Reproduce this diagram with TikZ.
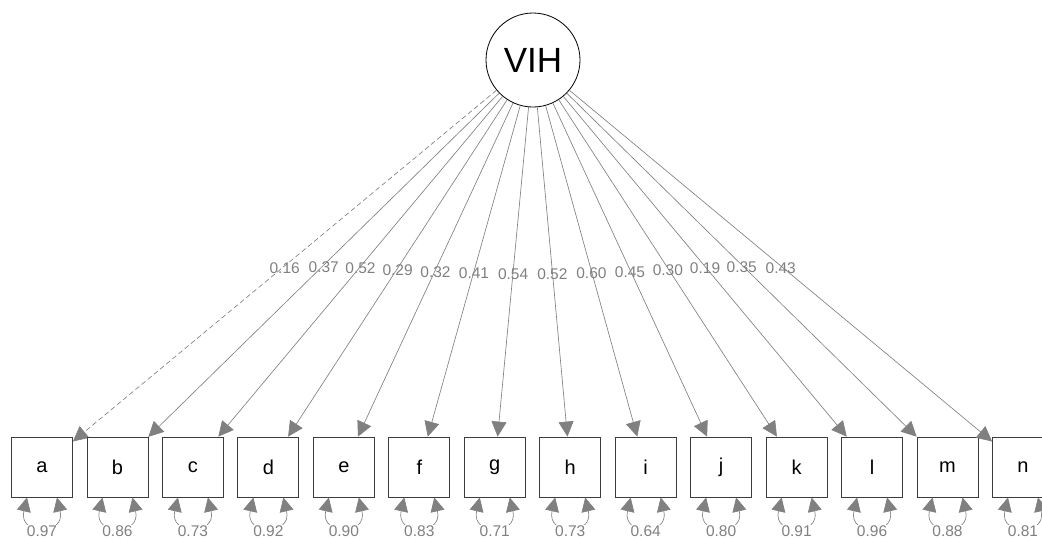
\documentclass[tikz,border=0pt]{standalone}
\usepackage{fontspec}
\setmainfont{Liberation Sans}
\usetikzlibrary{arrows.meta}
\definecolor{edgegray}{HTML}{808080}
\definecolor{boxgray}{HTML}{3C3C3C}
\begin{document}
\begin{tikzpicture}[x=1pt,y=-1pt,
  latent/.style={circle,draw=black,line width=0.8pt,minimum size=94pt,inner sep=0pt,
    font=\fontsize{35}{40}\selectfont},
  manifest/.style={rectangle,draw=boxgray,line width=0.8pt,minimum width=61pt,
    minimum height=60pt,inner sep=0pt,font=\fontsize{20}{24}\selectfont},
  loading/.style={draw=edgegray,line width=0.65pt,
    -{Triangle[length=15pt,width=15pt,fill=edgegray]}},
  fixed/.style={dash pattern=on 5pt off 3pt},
  coef/.style={text=edgegray,font=\fontsize{15.5}{17}\selectfont,inner sep=0pt},
  resid/.style={draw=edgegray,line width=0.65pt,
    {Triangle[length=14pt,width=14pt,fill=edgegray]}-{Triangle[length=14pt,width=14pt,fill=edgegray]}},
  rlabel/.style={coef,fill=white,inner sep=1pt}]
\useasboundingbox (0,0) rectangle (1042,539);

% latent factor
\node[latent] (v) at (533,60) {VIH};

% indicators with loadings and residual variances
\foreach \n/\l/\r/\ls [count=\i from 0] in {
  a/0.16/0.97/fixed, b/0.37/0.86/solid, c/0.52/0.73/solid, d/0.29/0.92/solid,
  e/0.32/0.90/solid, f/0.41/0.83/solid, g/0.54/0.71/solid, h/0.52/0.73/solid,
  i/0.60/0.64/solid, j/0.45/0.80/solid, k/0.30/0.91/solid, l/0.19/0.96/solid,
  m/0.35/0.88/solid, n/0.43/0.81/solid} {
  \pgfmathsetmacro{\xc}{42+75.46*\i}
  \node[manifest] (\n) at (\xc,467) {\n};
  \draw[loading,\ls] (v) -- node[coef,pos=0.5,yshift=-2pt] {\l} (\n);
  \coordinate (\n L) at (\xc-15,497.5);
  \coordinate (\n R) at (\xc+15,497.5);
  \draw[resid] (\n L) .. controls (\xc-24,536) and (\xc+24,536) .. (\n R);
  \node[rlabel] (\n v) at (\xc,531) {\r};
}
\end{tikzpicture}
\end{document}
